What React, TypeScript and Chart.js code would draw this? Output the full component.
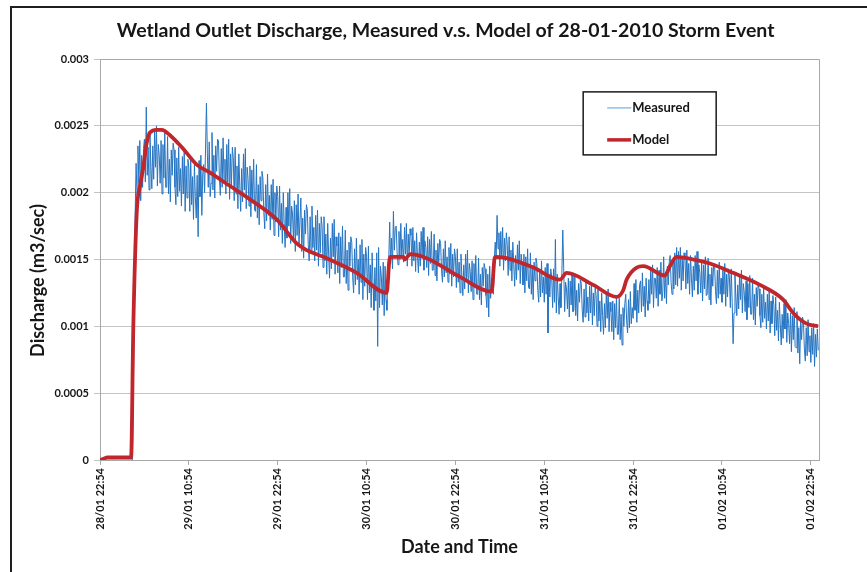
import React, { useEffect, useRef } from 'react';
import { Chart, registerables } from 'chart.js';

Chart.register(...registerables);

const TITLE = 'Wetland Outlet Discharge, Measured v.s. Model of 28-01-2010 Storm Event';
const X_TITLE = 'Date and Time';
const Y_TITLE = 'Discharge (m3/sec)';

const X_TICK_HOURS = [0, 12, 24, 36, 48, 60, 72, 84, 96];
const X_TICK_LABELS = [
  '28/01 22:54', '29/01 10:54', '29/01 22:54', '30/01 10:54', '30/01 22:54',
  '31/01 10:54', '31/01 22:54', '01/02 10:54', '01/02 22:54',
];
const Y_TICK_VALUES = [0, 0.0005, 0.001, 0.0015, 0.002, 0.0025, 0.003];
const Y_TICK_LABELS = ['0', '0.0005', '0.001', '0.0015', '0.002', '0.0025', '0.003'];

const SERIES_NAMES = ['Measured', 'Model'];

// Measured discharge (m3/sec), one reading every 7.5 minutes from 28/01 22:54 (one row = one hour)
const MEASURED_START_HOUR = 0;
const MEASURED_STEP_HOURS = 0.125;
const MEASURED = [
  0, 0, 0, 0, 0, 0, 0, 0,
  0, 0, 0, 0, 0, 0, 0, 0,
  0, 0, 0, 0, 0, 0, 0, 0,
  0, 0, 0, 0, 0, 0, 0, 0,
  0, 0, 0, 0, 0.0005, 0.00125, 0.00185, 0.00222,
  0.00198, 0.00235, 0.00207, 0.00239, 0.00194, 0.00228, 0.00204, 0.00233,
  0.0024, 0.00208, 0.00264, 0.00213, 0.00234, 0.00202, 0.00243, 0.00219,
  0.00203, 0.00235, 0.0021, 0.00246, 0.00219, 0.0025, 0.00205, 0.00236,
  0.00228, 0.00207, 0.00239, 0.00199, 0.00236, 0.00211, 0.00245, 0.00204,
  0.00204, 0.00242, 0.00199, 0.00225, 0.00193, 0.00232, 0.00213, 0.00237,
  0.00232, 0.00204, 0.00191, 0.00226, 0.00197, 0.00234, 0.00201, 0.00218,
  0.0019, 0.00227, 0.00199, 0.00231, 0.00186, 0.0022, 0.00196, 0.00225,
  0.00218, 0.00186, 0.00226, 0.00191, 0.00212, 0.0018, 0.00221, 0.00197,
  0.00181, 0.00213, 0.00167, 0.00224, 0.00197, 0.00228, 0.00183, 0.00214,
  0.00221, 0.002, 0.00232, 0.00267, 0.00229, 0.00204, 0.00238, 0.00197,
  0.00207, 0.00245, 0.00202, 0.00228, 0.00196, 0.00235, 0.00216, 0.0024,
  0.00239, 0.00211, 0.00198, 0.00233, 0.00204, 0.00241, 0.00208, 0.00225,
  0.00199, 0.00236, 0.00208, 0.0024, 0.00195, 0.00229, 0.00205, 0.00234,
  0.00226, 0.00194, 0.00234, 0.00199, 0.0022, 0.00188, 0.00229, 0.00205,
  0.00186, 0.00218, 0.00193, 0.00229, 0.00202, 0.00233, 0.00188, 0.00219,
  0.0021, 0.0019, 0.0022, 0.00182, 0.00217, 0.00194, 0.00225, 0.00187,
  0.00186, 0.00221, 0.00181, 0.00206, 0.00176, 0.00212, 0.00194, 0.00216,
  0.00211, 0.00185, 0.00173, 0.00206, 0.00179, 0.00214, 0.00183, 0.00198,
  0.00172, 0.00206, 0.0018, 0.0021, 0.00168, 0.002, 0.00178, 0.00205,
  0.00197, 0.00167, 0.00205, 0.00172, 0.00192, 0.00162, 0.002, 0.00177,
  0.00159, 0.00189, 0.00166, 0.002, 0.00175, 0.00203, 0.00162, 0.0019,
  0.00184, 0.00164, 0.00194, 0.00156, 0.00191, 0.00168, 0.00199, 0.00161,
  0.00161, 0.00196, 0.00156, 0.00181, 0.00151, 0.00187, 0.00169, 0.00191,
  0.00187, 0.00161, 0.00149, 0.00182, 0.00155, 0.0019, 0.00159, 0.00174,
  0.00149, 0.00183, 0.00157, 0.00187, 0.00145, 0.00177, 0.00155, 0.00182,
  0.00174, 0.00144, 0.00182, 0.00149, 0.00169, 0.00139, 0.00177, 0.00154,
  0.00136, 0.00166, 0.00143, 0.00177, 0.00152, 0.0018, 0.00139, 0.00167,
  0.0016, 0.0014, 0.0017, 0.00132, 0.00167, 0.00144, 0.00175, 0.00137,
  0.00137, 0.00172, 0.00132, 0.00157, 0.00127, 0.00163, 0.00145, 0.00167,
  0.00163, 0.00137, 0.00125, 0.00158, 0.00131, 0.00166, 0.00135, 0.0015,
  0.00124, 0.00161, 0.00133, 0.00165, 0.0012, 0.00154, 0.0013, 0.00159,
  0.00152, 0.0012, 0.0016, 0.00125, 0.00146, 0.00114, 0.00155, 0.00131,
  0.00112, 0.00144, 0.00119, 0.00155, 0.00085, 0.00159, 0.00114, 0.00145,
  0.00137, 0.00116, 0.00148, 0.00108, 0.00145, 0.0012, 0.00112, 0.0014,
  0.00151, 0.00178, 0.00147, 0.00166, 0.00143, 0.00186, 0.00157, 0.00174,
  0.00175, 0.00155, 0.00146, 0.00171, 0.0015, 0.00177, 0.00153, 0.00165,
  0.00148, 0.00174, 0.00154, 0.00177, 0.00145, 0.00169, 0.00152, 0.00173,
  0.00168, 0.00145, 0.00174, 0.00149, 0.00164, 0.00141, 0.0017, 0.00153,
  0.0014, 0.00163, 0.00145, 0.00171, 0.00152, 0.00174, 0.00142, 0.00164,
  0.00159, 0.00144, 0.00167, 0.00138, 0.00165, 0.00147, 0.00171, 0.00142,
  0.00142, 0.00169, 0.00138, 0.00157, 0.00134, 0.00162, 0.00148, 0.00165,
  0.00162, 0.00142, 0.00133, 0.00158, 0.00137, 0.00164, 0.0014, 0.00152,
  0.00133, 0.00159, 0.00139, 0.00162, 0.0013, 0.00154, 0.00137, 0.00158,
  0.00152, 0.00129, 0.00158, 0.00133, 0.00148, 0.00125, 0.00154, 0.00137,
  0.00123, 0.00146, 0.00128, 0.00154, 0.00135, 0.00157, 0.00125, 0.00147,
  0.00141, 0.00126, 0.00149, 0.0012, 0.00147, 0.00129, 0.00153, 0.00124,
  0.00124, 0.00151, 0.0012, 0.00139, 0.00116, 0.00144, 0.0013, 0.00147,
  0.00143, 0.00123, 0.00114, 0.00139, 0.00107, 0.00145, 0.00121, 0.00133,
  0.00127, 0.00124, 0.0015, 0.00163, 0.00151, 0.00183, 0.00158, 0.0017,
  0.00145, 0.00171, 0.00151, 0.00174, 0.00142, 0.00166, 0.00149, 0.0017,
  0.00161, 0.00138, 0.00167, 0.00142, 0.00157, 0.00134, 0.00163, 0.00146,
  0.0013, 0.00153, 0.00135, 0.00161, 0.00142, 0.00164, 0.00132, 0.00154,
  0.00146, 0.00131, 0.00154, 0.00125, 0.00152, 0.00134, 0.00158, 0.00129,
  0.00128, 0.00155, 0.00124, 0.00143, 0.0012, 0.00148, 0.00134, 0.00151,
  0.00147, 0.00127, 0.00118, 0.00143, 0.00122, 0.00149, 0.00125, 0.00137,
  0.00118, 0.00144, 0.00124, 0.00147, 0.00095, 0.00139, 0.00122, 0.00143,
  0.00137, 0.00114, 0.00143, 0.00118, 0.00165, 0.0011, 0.00139, 0.00122,
  0.00109, 0.00132, 0.00114, 0.0014, 0.00172, 0.00143, 0.00111, 0.00133,
  0.00128, 0.00113, 0.00136, 0.00107, 0.00134, 0.00116, 0.0014, 0.00111,
  0.00112, 0.00139, 0.00108, 0.00127, 0.00104, 0.00132, 0.00118, 0.00135,
  0.00132, 0.00112, 0.00103, 0.00128, 0.00107, 0.00134, 0.0011, 0.00122,
  0.00104, 0.0013, 0.0011, 0.00133, 0.00101, 0.00125, 0.00108, 0.00129,
  0.00123, 0.001, 0.00129, 0.00104, 0.00119, 0.00096, 0.00125, 0.00108,
  0.00094, 0.00117, 0.00099, 0.00125, 0.00106, 0.00128, 0.00096, 0.00118,
  0.00111, 0.00096, 0.00119, 0.0009, 0.00117, 0.00099, 0.00123, 0.00094,
  0.00094, 0.00121, 0.0009, 0.00109, 0.00086, 0.00114, 0.001, 0.00117,
  0.00124, 0.00104, 0.00095, 0.0012, 0.00099, 0.00126, 0.00102, 0.00114,
  0.00106, 0.00132, 0.00112, 0.00135, 0.00103, 0.00127, 0.0011, 0.00131,
  0.00134, 0.00111, 0.0014, 0.00115, 0.0013, 0.00107, 0.00136, 0.00119,
  0.00112, 0.00135, 0.00117, 0.00143, 0.00124, 0.00146, 0.00114, 0.00136,
  0.00136, 0.00121, 0.00144, 0.00115, 0.00142, 0.00124, 0.00148, 0.00119,
  0.00125, 0.00152, 0.00121, 0.0014, 0.00117, 0.00145, 0.00131, 0.00148,
  0.00153, 0.00133, 0.00124, 0.00149, 0.00128, 0.00155, 0.00131, 0.00159,
  0.0013, 0.00156, 0.00136, 0.00159, 0.00127, 0.00151, 0.00134, 0.00155,
  0.00151, 0.00128, 0.00157, 0.00132, 0.00147, 0.00124, 0.00153, 0.00136,
  0.00122, 0.00145, 0.00127, 0.00153, 0.00134, 0.00156, 0.00124, 0.00146,
  0.0014, 0.00125, 0.00148, 0.00119, 0.00146, 0.00128, 0.00152, 0.00123,
  0.00124, 0.00151, 0.0012, 0.00139, 0.00116, 0.00144, 0.0013, 0.00147,
  0.00146, 0.00126, 0.00117, 0.00142, 0.00121, 0.00148, 0.00124, 0.00136,
  0.00118, 0.00144, 0.00124, 0.00147, 0.00115, 0.00139, 0.00122, 0.00143,
  0.00137, 0.00114, 0.00143, 0.00118, 0.00087, 0.0011, 0.00139, 0.00122,
  0.00108, 0.00131, 0.00113, 0.00139, 0.0012, 0.00142, 0.0011, 0.00132,
  0.00126, 0.00111, 0.00134, 0.00105, 0.00132, 0.00114, 0.00138, 0.00109,
  0.00109, 0.00136, 0.00105, 0.00124, 0.00101, 0.00129, 0.00115, 0.00132,
  0.00128, 0.00108, 0.00099, 0.00124, 0.00103, 0.0013, 0.00106, 0.00118,
  0.00098, 0.00124, 0.00104, 0.00127, 0.00095, 0.00119, 0.00102, 0.00123,
  0.00116, 0.00093, 0.00122, 0.00097, 0.00112, 0.00089, 0.00118, 0.00101,
  0.00086, 0.00109, 0.00091, 0.00117, 0.00098, 0.0012, 0.00088, 0.0011,
  0.00102, 0.00087, 0.0011, 0.00081, 0.00108, 0.0009, 0.00114, 0.00085,
  0.00084, 0.00111, 0.0008, 0.00099, 0.00072, 0.00104, 0.0009, 0.00107,
  0.00103, 0.00083, 0.00074, 0.00099, 0.00078, 0.00105, 0.00081, 0.00093,
  0.00073, 0.00099, 0.00079, 0.00102, 0.0007, 0.00094, 0.00077, 0.00098,
  0.00082,
];

// Model discharge (m3/sec), hours after 28/01 22:54
const MODEL_HOURS = [
  0, 0.5, 1, 2.5, 4.2, 4.5, 4.96, 5.4, 5.85, 6.3, 6.75, 7.66, 8.33, 9.45, 11.2,
  13.06, 14.85, 17.55, 20.25, 23.86, 26.56, 27.91, 30.15, 34.66, 38.71, 39.16,
  40.95, 41.18, 41.86, 44.11, 48.61, 52.89, 53.33, 54.92, 58.51, 62.11, 63.02,
  66.61, 69.77, 70.66, 71.12, 72.47, 73.36, 76.29, 76.96, 77.87, 80.11, 82.37,
  85.51, 89.12, 92.26, 93.61, 95.42, 96.98,
];
const MODEL_VALUES = [
  0, 0.00001, 0.00002, 0.00002, 0.00002, 0.001, 0.00185, 0.00205, 0.00219, 0.00237,
  0.00245, 0.00247, 0.00247, 0.00243, 0.00233, 0.00221, 0.00215, 0.00205, 0.00195,
  0.0018, 0.00162, 0.00157, 0.00152, 0.0014, 0.00125, 0.00152, 0.00152, 0.0015,
  0.00154, 0.00151, 0.00137, 0.00126, 0.00152, 0.00151, 0.00144, 0.00135, 0.0014,
  0.00131, 0.00122, 0.00127, 0.00135, 0.00144, 0.00145, 0.00138, 0.00145, 0.00152,
  0.0015, 0.00147, 0.0014, 0.00131, 0.0012, 0.0011, 0.00102, 0.001,
];

const FONT = 'Lato, "Open Sans", sans-serif';
const MEASURED_COLOR = '#2574c2';
const MEASURED_LEGEND_COLOR = '#8cc0e6';
const MODEL_COLOR = '#c0262c';
const TEXT_COLOR = '#161616';

const plotFramePlugin = {
  id: 'plotFrame',
  beforeDatasetsDraw(chart: any) {
    const { ctx, chartArea } = chart;
    ctx.save();
    ctx.strokeStyle = '#a8a8a8';
    ctx.lineWidth = 1;
    ctx.beginPath();
    ctx.moveTo(chartArea.left, chartArea.top + 0.5);
    ctx.lineTo(chartArea.right + 0.5, chartArea.top + 0.5);
    ctx.lineTo(chartArea.right + 0.5, chartArea.bottom);
    ctx.stroke();
    ctx.restore();
  },
};

const textPlugin = {
  id: 'chartTexts',
  afterDraw(chart: any) {
    const { ctx, chartArea } = chart;
    ctx.save();
    ctx.fillStyle = TEXT_COLOR;
    ctx.textAlign = 'center';
    ctx.textBaseline = 'middle';
    // main title
    ctx.font = `bold 19.5px ${FONT}`;
    ctx.fillText(TITLE, chart.width * 0.514, chartArea.top - 28);
    // y axis title
    ctx.translate(chartArea.left - 62, (chartArea.top + chartArea.bottom) / 2 + 21);
    ctx.rotate(-Math.PI / 2);
    ctx.font = `bold 18px ${FONT}`;
    ctx.fillText(Y_TITLE, 0, 0);
    ctx.restore();
  },
};

const boxLegendPlugin = {
  id: 'boxLegend',
  afterDraw(chart: any) {
    const { ctx, chartArea } = chart;
    const w = chartArea.right - chartArea.left;
    const h = chartArea.bottom - chartArea.top;
    const x0 = chartArea.left + w * 0.672;
    const y0 = chartArea.top + h * 0.082;
    const bw = 133;
    const bh = 63;
    ctx.save();
    ctx.fillStyle = '#ffffff';
    ctx.fillRect(x0, y0, bw, bh);
    ctx.strokeStyle = '#1a1a1a';
    ctx.lineWidth = 1.5;
    ctx.strokeRect(x0, y0, bw, bh);
    const items = [
      { label: SERIES_NAMES[0], color: MEASURED_LEGEND_COLOR, width: 1.5, y: y0 + 16 },
      { label: SERIES_NAMES[1], color: MODEL_COLOR, width: 3.5, y: y0 + 48 },
    ];
    ctx.font = `bold 13px ${FONT}`;
    ctx.textBaseline = 'middle';
    ctx.textAlign = 'left';
    for (const it of items) {
      ctx.strokeStyle = it.color;
      ctx.lineWidth = it.width;
      ctx.beginPath();
      ctx.moveTo(x0 + 24, it.y);
      ctx.lineTo(x0 + 48, it.y);
      ctx.stroke();
      ctx.fillStyle = TEXT_COLOR;
      ctx.fillText(it.label, x0 + 49, it.y);
    }
    ctx.restore();
  },
};

export default function App() {
  const canvasRef = useRef<HTMLCanvasElement | null>(null);

  useEffect(() => {
    const canvas = canvasRef.current;
    if (!canvas) return;
    const measuredPoints = MEASURED.map((v, i) => ({
      x: MEASURED_START_HOUR + i * MEASURED_STEP_HOURS,
      y: v,
    }));
    const modelPoints = MODEL_HOURS.map((hr, i) => ({ x: hr, y: MODEL_VALUES[i] }));

    const chart = new Chart(canvas, {
      type: 'line',
      data: {
        datasets: [
          {
            label: SERIES_NAMES[1],
            data: modelPoints,
            borderColor: MODEL_COLOR,
            borderWidth: 3.8,
            pointRadius: 0,
            cubicInterpolationMode: 'monotone',
            fill: false,
          },
          {
            label: SERIES_NAMES[0],
            data: measuredPoints,
            borderColor: MEASURED_COLOR,
            borderWidth: 1,
            pointRadius: 0,
            tension: 0,
            fill: false,
          },
        ],
      },
      options: {
        animation: false,
        responsive: false,
        maintainAspectRatio: false,
        layout: { padding: { left: 24, right: 48, top: 59, bottom: 10 } },
        plugins: {
          legend: { display: false },
          tooltip: { enabled: false },
          title: { display: false, text: TITLE },
        },
        scales: {
          x: {
            type: 'linear',
            min: 0,
            max: 97.1,
            afterBuildTicks: (s: any) => {
              s.ticks = X_TICK_HOURS.map((v) => ({ value: v }));
            },
            afterFit: (s: any) => {
              s.height = 102;
            },
            ticks: {
              autoSkip: false,
              minRotation: 90,
              maxRotation: 90,
              padding: 3,
              color: TEXT_COLOR,
              font: { family: FONT, weight: 'bold', size: 11 },
              callback: (_v: any, i: number) => X_TICK_LABELS[i],
            },
            grid: { drawOnChartArea: false, drawTicks: true, tickLength: 5, color: '#a8a8a8' },
            border: { color: '#a8a8a8' },
            title: {
              display: true,
              text: X_TITLE,
              color: TEXT_COLOR,
              font: { family: FONT, weight: 'bold', size: 18 },
              padding: { top: 4, bottom: 4 },
            },
          },
          y: {
            min: 0,
            max: 0.003,
            afterBuildTicks: (s: any) => {
              s.ticks = Y_TICK_VALUES.map((v) => ({ value: v }));
            },
            afterFit: (s: any) => {
              s.width = 76;
            },
            ticks: {
              padding: 5,
              color: TEXT_COLOR,
              font: { family: FONT, weight: 'bold', size: 11 },
              callback: (_v: any, i: number) => Y_TICK_LABELS[i],
            },
            grid: { color: '#c4c4c4', tickLength: 6 },
            border: { color: '#a8a8a8' },
            title: { display: false, text: Y_TITLE },
          },
        },
      },
      plugins: [plotFramePlugin, textPlugin, boxLegendPlugin],
    });

    return () => {
      chart.destroy();
    };
  }, []);

  return (
    <div
      style={{
        position: 'fixed',
        left: 0,
        top: 0,
        width: 867,
        height: 572,
        overflow: 'hidden',
        background: '#ffffff',
      }}
    >
      <div
        style={{
          position: 'absolute',
          left: 10,
          top: 6,
          width: 900,
          height: 620,
          borderLeft: '2px solid #1e1e1e',
          borderTop: '2px solid #1e1e1e',
          boxSizing: 'border-box',
        }}
      />
      <canvas
        ref={canvasRef}
        width={867}
        height={572}
        style={{ position: 'absolute', left: 0, top: 0, width: 867, height: 572 }}
      />
    </div>
  );
}
